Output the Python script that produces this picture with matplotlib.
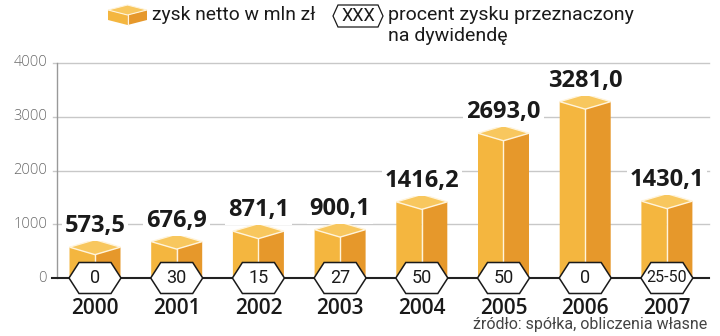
import matplotlib
matplotlib.use("Agg")
import matplotlib.pyplot as plt
from matplotlib.patches import Polygon

years = ["2000", "2001", "2002", "2003", "2004", "2005", "2006", "2007"]
profit = [573.5, 676.9, 871.1, 900.1, 1416.2, 2693.0, 3281.0, 1430.1]
profit_labels = ["573,5", "676,9", "871,1", "900,1", "1416,2", "2693,0", "3281,0", "1430,1"]
dividend = ["0", "30", "15", "27", "50", "50", "0", "25-50"]
yticks = [0, 1000, 2000, 3000, 4000]

C_LEFT = "#F4B63F"
C_RIGHT = "#E6982B"
C_TOP = "#F8C75E"
NARROW = ["Roboto", "DejaVu Sans"]
WIDE = ["Open Sans", "DejaVu Sans"]

W, H = 720, 336
fig = plt.figure(figsize=(W / 100, H / 100), dpi=100)

px_per_unit_x = 81.7
x0_px = 95
ax_left, ax_right = 57, 712
y0_px, y4000_px = 278, 63
ax = fig.add_axes([ax_left / W, (H - y0_px) / H, (ax_right - ax_left) / W, (y0_px - y4000_px) / H])
xmin = -(x0_px - ax_left) / px_per_unit_x
xmax = xmin + (ax_right - ax_left) / px_per_unit_x
ax.set_xlim(xmin, xmax)
ax.set_ylim(0, 4000)
for s in ax.spines.values():
    s.set_visible(False)
ax.set_xticks([])
ax.set_yticks([])

uy = 4000 / (y0_px - y4000_px)  # data units per pixel (y)
ux = 1 / px_per_unit_x

# grid and axis
for t in yticks[1:]:
    ax.plot([xmin - 4 * ux, 7.52], [t, t], color="#c8c8c8", lw=1.0, zorder=1, clip_on=False)
ax.plot([xmin, xmin], [0, 4000], color="#999999", lw=1.0, zorder=1, clip_on=False)
ax.plot([xmin - 5 * ux, 7.52], [0, 0], color="#222222", lw=1.5, zorder=2, clip_on=False)
for t in yticks:
    ax.text(xmin - 10 * ux, t, str(t), ha="right", va="center", fontsize=10.5,
            color="#6a6a6a", family=WIDE, fontweight="light")

hw = 25.5 * ux
rh = 7.5 * uy
for i, v in enumerate(profit):
    left = Polygon([(i - hw, 0), (i - hw, v), (i, v - rh), (i, 0)], closed=True,
                   facecolor=C_LEFT, edgecolor="none", zorder=3)
    right = Polygon([(i, 0), (i, v - rh), (i + hw, v), (i + hw, 0)], closed=True,
                    facecolor=C_RIGHT, edgecolor="none", zorder=3)
    top = Polygon([(i - hw, v), (i, v + rh), (i + hw, v), (i, v - rh)], closed=True,
                  facecolor=C_TOP, edgecolor="#fff4dc", lw=1.0, zorder=4)
    ax.add_patch(left)
    ax.add_patch(right)
    ax.add_patch(top)
    ax.plot([i, i], [0, v - rh], color="#fff4dc", lw=1.0, zorder=4)
    ax.annotate(profit_labels[i], (i, v + rh), xytext=(0, 1), textcoords="offset points",
                ha="center", va="bottom", fontsize=17, fontweight="bold", color="#1a1a1a",
                family=WIDE, zorder=6,
                bbox=dict(boxstyle="square,pad=0.12", fc="white", ec="none"))
    # hexagon
    hx = 26 * ux
    ins = 10 * ux
    hh = 15.5 * uy
    hexa = Polygon([(i - hx, 0), (i - hx + ins, hh), (i + hx - ins, hh), (i + hx, 0),
                    (i + hx - ins, -hh), (i - hx + ins, -hh)], closed=True,
                   facecolor="white", edgecolor="#1a1a1a", lw=1.1, zorder=7, clip_on=False)
    ax.add_patch(hexa)
    ax.text(i, 0, dividend[i], ha="center", va="center", fontsize=13 if len(dividend[i]) < 4 else 11.5,
            color="#1a1a1a", family=NARROW, zorder=8)
    ax.text(i, -30 * uy, years[i], ha="center", va="center", fontsize=15, fontweight="semibold",
            color="#1a1a1a", family=WIDE, zorder=8)

fig.text(707 / W, 1 - 325 / H, "źródło: spółka, obliczenia własne", ha="right", va="center",
         fontsize=11.5, color="#444444", family=NARROW)

# legend
lax = fig.add_axes([0, 0, 1, 1])
lax.set_xlim(0, W)
lax.set_ylim(H, 0)
lax.axis("off")
cx = 127.5
lw_ = 19.5
top_y, side_y, mid_y, bot_side, bot_mid = 5, 10, 15, 20, 25
lax.add_patch(Polygon([(cx - lw_, side_y), (cx, mid_y), (cx, bot_mid), (cx - lw_, bot_side)],
                      closed=True, fc=C_LEFT, ec="none"))
lax.add_patch(Polygon([(cx, mid_y), (cx + lw_, side_y), (cx + lw_, bot_side), (cx, bot_mid)],
                      closed=True, fc=C_RIGHT, ec="none"))
lax.add_patch(Polygon([(cx - lw_, side_y), (cx, top_y), (cx + lw_, side_y), (cx, mid_y)],
                      closed=True, fc=C_TOP, ec="#fff4dc", lw=0.8))
lax.plot([cx, cx], [mid_y, bot_mid], color="#fff4dc", lw=0.8)
lax.text(152, 15, "zysk netto w mln zł", ha="left", va="center", fontsize=13.9,
         color="#1a1a1a", family=NARROW)
hx0, hy0 = 358, 16
lax.add_patch(Polygon([(hx0 - 25, hy0), (hx0 - 20, hy0 - 11), (hx0 + 20, hy0 - 11), (hx0 + 25, hy0),
                       (hx0 + 20, hy0 + 11), (hx0 - 20, hy0 + 11)], closed=True,
                      fc="white", ec="#1a1a1a", lw=0.9))
lax.text(hx0, hy0, "XXX", ha="center", va="center", fontsize=13, color="#1a1a1a", family=NARROW)
lax.text(388, 15, "procent zysku przeznaczony", ha="left", va="center", fontsize=14,
         color="#1a1a1a", family=NARROW)
lax.text(388, 36, "na dywidendę", ha="left", va="center", fontsize=14,
         color="#1a1a1a", family=NARROW)

fig.savefig("out.png", dpi=100)
